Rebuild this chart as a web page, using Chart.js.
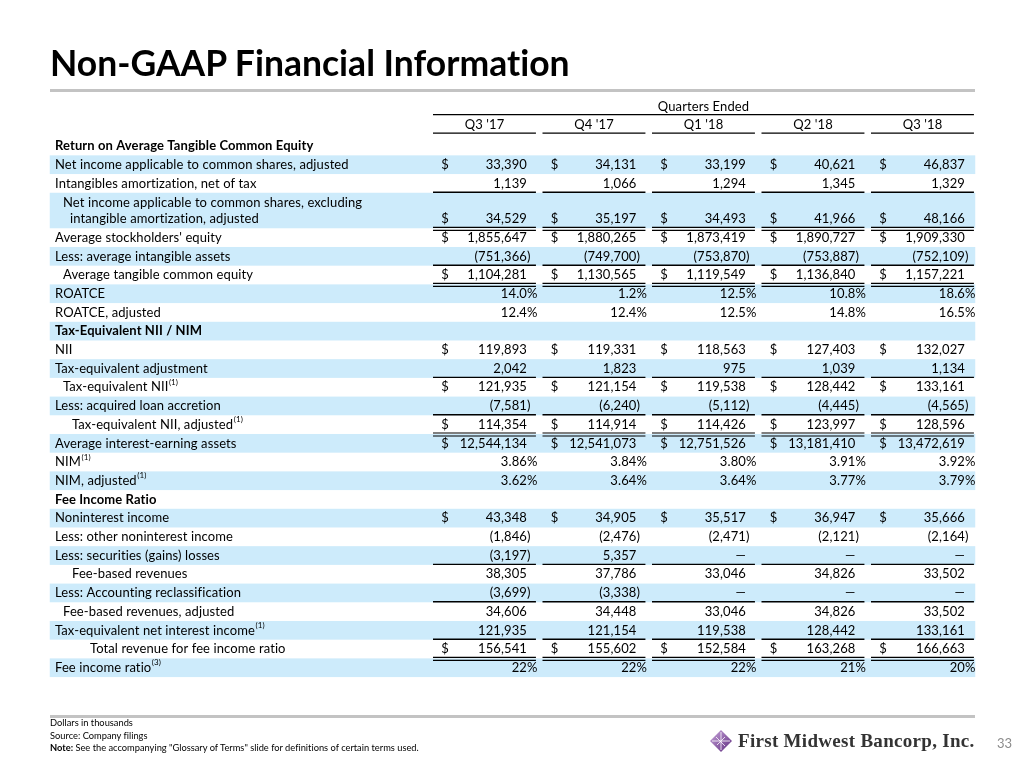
<!DOCTYPE html>
<html lang="en">
<head>
  <meta charset="utf-8">
  <title>Non-GAAP Financial Information</title>
  <script src="https://cdn.jsdelivr.net/npm/chart.js@4/dist/chart.umd.min.js"></script>
  <style>
    body { margin:0; background:#fff; font-family:Lato, sans-serif; color:#000; font-variant-ligatures:none; }
    .slide { position:relative; width:1024px; height:768px; overflow:hidden; }
    #tbl { position:absolute; left:0; top:0; }
    h1 { position:absolute; left:50px; top:44.5px; margin:0; font-size:35.5px; line-height:35.5px; font-weight:700; white-space:nowrap; }
    .rule { position:absolute; left:50px; width:925px; height:3px; background:#c3c3c3; }
    .notes { position:absolute; left:50px; top:717px; font-size:9.3px; line-height:12.5px; }
    .logo { position:absolute; left:709px; top:729px; display:flex; align-items:center; gap:5px; }
    .logo span { font-family:"Liberation Serif", serif; font-weight:700; font-size:19px; color:#333; letter-spacing:0.3px; }
    .page { position:absolute; left:997px; top:735px; font-size:13px; color:#8c8c8c; }
  </style>
</head>
<body>
<div class="slide">
  <canvas id="tbl" width="1024" height="768"></canvas>
  <h1>Non-GAAP Financial Information</h1>
  <div class="rule" style="top:89px"></div>
  <div class="rule" style="top:715px"></div>
  <div class="notes">
    Dollars in thousands<br>
    Source: Company filings<br>
    <b>Note:</b> See the accompanying "Glossary of Terms" slide for definitions of certain terms used.
  </div>
  <div class="logo">
    <svg width="24" height="24" viewBox="0 0 24 24">
      <defs><linearGradient id="g" x1="0" y1="0" x2="1" y2="1"><stop offset="0" stop-color="#c9a6dc"/><stop offset="1" stop-color="#5e2b7e"/></linearGradient></defs>
      <polygon points="12,1 23,12 12,23 1,12" fill="url(#g)"/>
      <path d="M12 3V21M3 12H21M7 8L16 17M8 16L16 8" stroke="#fff" stroke-width="0.8"/>
    </svg>
    <span>First Midwest Bancorp, Inc.</span>
  </div>
  <div class="page">33</div>
</div>

<script>
  // ---- data (dollars in thousands) ----
  const quarters = ["Q3 '17", "Q4 '17", "Q1 '18", "Q2 '18", "Q3 '18"];
  const netIncomeAdj = [33390, 34131, 33199, 40621, 46837];
  const intangAmort = [1139, 1066, 1294, 1345, 1329];
  const netIncomeExAmort = [34529, 35197, 34493, 41966, 48166];
  const avgEquity = [1855647, 1880265, 1873419, 1890727, 1909330];
  const avgIntangibles = [-751366, -749700, -753870, -753887, -752109];
  const avgTangibleEquity = [1104281, 1130565, 1119549, 1136840, 1157221];
  const roatce = [14.0, 1.2, 12.5, 10.8, 18.6];
  const roatceAdj = [12.4, 12.4, 12.5, 14.8, 16.5];
  const nii = [119893, 119331, 118563, 127403, 132027];
  const teAdjustment = [2042, 1823, 975, 1039, 1134];
  const teNii = [121935, 121154, 119538, 128442, 133161];
  const loanAccretion = [-7581, -6240, -5112, -4445, -4565];
  const teNiiAdj = [114354, 114914, 114426, 123997, 128596];
  const avgEarningAssets = [12544134, 12541073, 12751526, 13181410, 13472619];
  const nim = [3.86, 3.84, 3.80, 3.91, 3.92];
  const nimAdj = [3.62, 3.64, 3.64, 3.77, 3.79];
  const nonintIncome = [43348, 34905, 35517, 36947, 35666];
  const otherNonint = [-1846, -2476, -2471, -2121, -2164];
  const securitiesGains = [-3197, 5357, null, null, null];
  const feeRevenues = [38305, 37786, 33046, 34826, 33502];
  const acctReclass = [-3699, -3338, null, null, null];
  const feeRevenuesAdj = [34606, 34448, 33046, 34826, 33502];
  const teNetInterestIncome = [121935, 121154, 119538, 128442, 133161];
  const totalRevenue = [156541, 155602, 152584, 163268, 166663];
  const feeIncomeRatio = [22, 22, 22, 21, 20];

  // rule: 1 = single underline, 2 = double underline; pct = decimals for percents
  const rows = [
    { label: 'Return on Average Tangible Common Equity', bold: true },
    { label: 'Net income applicable to common shares, adjusted', values: netIncomeAdj, dollar: true },
    { label: 'Intangibles amortization, net of tax', values: intangAmort, rule: 1 },
    { label: 'Net income applicable to common shares, excluding', label2: 'intangible amortization, adjusted', values: netIncomeExAmort, dollar: true, rule: 2, indent: 1 },
    { label: "Average stockholders' equity", values: avgEquity, dollar: true },
    { label: 'Less: average intangible assets', values: avgIntangibles, rule: 1 },
    { label: 'Average tangible common equity', values: avgTangibleEquity, dollar: true, rule: 2, indent: 1 },
    { label: 'ROATCE', values: roatce, pct: 1 },
    { label: 'ROATCE, adjusted', values: roatceAdj, pct: 1 },
    { label: 'Tax-Equivalent NII / NIM', bold: true },
    { label: 'NII', values: nii, dollar: true },
    { label: 'Tax-equivalent adjustment', values: teAdjustment, rule: 1 },
    { label: 'Tax-equivalent NII', sup: '(1)', values: teNii, dollar: true, indent: 1 },
    { label: 'Less: acquired loan accretion', values: loanAccretion, rule: 1 },
    { label: 'Tax-equivalent NII, adjusted', sup: '(1)', values: teNiiAdj, dollar: true, rule: 2, indent: 2 },
    { label: 'Average interest-earning assets', values: avgEarningAssets, dollar: true },
    { label: 'NIM', sup: '(1)', values: nim, pct: 2 },
    { label: 'NIM, adjusted', sup: '(1)', values: nimAdj, pct: 2 },
    { label: 'Fee Income Ratio', bold: true },
    { label: 'Noninterest income', values: nonintIncome, dollar: true },
    { label: 'Less: other noninterest income', values: otherNonint },
    { label: 'Less: securities (gains) losses', values: securitiesGains, rule: 1 },
    { label: 'Fee-based revenues', values: feeRevenues, indent: 2 },
    { label: 'Less: Accounting reclassification', values: acctReclass, rule: 1 },
    { label: 'Fee-based revenues, adjusted', values: feeRevenuesAdj, indent: 1 },
    { label: 'Tax-equivalent net interest income', sup: '(1)', values: teNetInterestIncome, rule: 1 },
    { label: 'Total revenue for fee income ratio', values: totalRevenue, dollar: true, rule: 2, indent: 3 },
    { label: 'Fee income ratio', sup: '(3)', values: feeIncomeRatio, pct: 0 }
  ];

  // row positions in table units (row 3 holds two text lines)
  rows.forEach((r, i) => {
    if (i < 3) { r.pos = i; r.top = i - 0.5; r.bot = i + 0.5; }
    else if (i === 3) { r.pos = 3.9; r.pos1 = 3.03; r.top = 2.5; r.bot = 4.4; }
    else { r.pos = i + 0.9; r.top = r.pos - 0.5; r.bot = r.pos + 0.5; }
  });

  const LABEL_X = -3.452, BAND_L = -3.5, BAND_R = 4.952, COL_W = 0.94;
  const DOLLAR_DX = 0.075, DIGIT_DX = 0.858;
  const INDENT_PX = [0, 8, 17, 35];
  const BAND = '#cdebfb';
  const FS = 13;

  function fmt(v, r) {
    if (v === null) return ['—', ''];
    if (r.pct !== undefined) return [v.toFixed(r.pct), '%'];
    const s = Math.abs(v).toLocaleString('en-US');
    return v < 0 ? ['(' + s, ')'] : [s, ''];
  }

  const cells = [];
  rows.forEach((r, ri) => {
    if (!r.values) return;
    r.values.forEach((v, ci) => cells.push({ x: ci + DIGIT_DX, y: r.pos, ri, ci }));
  });

  const tablePlugin = {
    id: 'tablePlugin',
    beforeDatasetsDraw(chart) {
      const { ctx, scales: { x, y } } = chart;
      ctx.save();
      ctx.fillStyle = BAND;
      rows.forEach((r, i) => {
        if (i % 2 === 0) return;
        const t = y.getPixelForValue(r.top), b = y.getPixelForValue(r.bot);
        const l = x.getPixelForValue(BAND_L), rr = x.getPixelForValue(BAND_R);
        ctx.fillRect(l, t, rr - l, b - t);
      });
      ctx.restore();
    },
    afterDatasetsDraw(chart) {
      const { ctx, scales: { x, y } } = chart;
      const meta = chart.getDatasetMeta(0);
      ctx.save();
      ctx.fillStyle = '#000';
      ctx.strokeStyle = '#000';
      ctx.textBaseline = 'middle';
      ctx.letterSpacing = '0.1px'; // also keeps Lato from forming ti/fi ligatures
      const hline = (x0, x1, yy, w) => {
        ctx.lineWidth = w; ctx.beginPath(); ctx.moveTo(x0, yy); ctx.lineTo(x1, yy); ctx.stroke();
      };

      // header
      ctx.font = `${FS}px Lato`;
      ctx.textAlign = 'center';
      ctx.fillText('Quarters Ended', (x.getPixelForValue(0) + x.getPixelForValue(4 + COL_W)) / 2, y.getPixelForValue(-2.09));
      hline(x.getPixelForValue(0), x.getPixelForValue(4 + COL_W), y.getPixelForValue(-1.68), 1.4);
      quarters.forEach((q, ci) => {
        ctx.fillText(q, x.getPixelForValue(ci + COL_W / 2), y.getPixelForValue(-1.12));
        hline(x.getPixelForValue(ci), x.getPixelForValue(ci + COL_W), y.getPixelForValue(-0.69), 1.4);
      });

      // row labels
      ctx.textAlign = 'left';
      rows.forEach(r => {
        const lx = x.getPixelForValue(LABEL_X) + INDENT_PX[r.indent || 0];
        ctx.font = `${r.bold ? 'bold ' : ''}${FS}px Lato`;
        if (r.label2) {
          ctx.fillText(r.label, lx, y.getPixelForValue(r.pos1));
          ctx.fillText(r.label2, x.getPixelForValue(LABEL_X) + 15, y.getPixelForValue(r.pos));
        } else {
          ctx.fillText(r.label, lx, y.getPixelForValue(r.pos));
        }
        if (r.sup) {
          const w = ctx.measureText(r.label).width;
          ctx.font = '8px Lato';
          ctx.fillText(r.sup, lx + w + 0.5, y.getPixelForValue(r.pos) - 5);
        }
      });

      // values, drawn at the dataset's points
      ctx.font = `${FS}px Lato`;
      meta.data.forEach((pt, k) => {
        const c = cells[k], r = rows[c.ri];
        const [core, tail] = fmt(r.values[c.ci], r);
        ctx.textAlign = 'right';
        ctx.fillText(core, pt.x, pt.y);
        if (tail) { ctx.textAlign = 'left'; ctx.fillText(tail, pt.x, pt.y); }
        if (r.dollar) { ctx.textAlign = 'left'; ctx.fillText('$', x.getPixelForValue(c.ci + DOLLAR_DX), pt.y); }
        const x0 = x.getPixelForValue(c.ci), x1 = x.getPixelForValue(c.ci + COL_W);
        const yb = y.getPixelForValue(r.bot);
        if (r.rule === 1) hline(x0, x1, yb - 0.5, 1.4);
        if (r.rule === 2) { hline(x0, x1, yb - 1, 1.2); hline(x0, x1, yb + 2, 1.2); }
      });
      ctx.restore();
    }
  };

  // table units: one column pitch = 109.5px, one row = 18.7px; column 0 starts at 433px, row 0 sits at 146px
  new Chart(document.getElementById('tbl'), {
    type: 'scatter',
    data: { datasets: [{ data: cells.map(c => ({ x: c.x, y: c.y })), pointRadius: 0, pointHoverRadius: 0 }] },
    options: {
      responsive: false,
      animation: false,
      devicePixelRatio: 1,
      layout: { padding: 0 },
      plugins: { legend: { display: false }, tooltip: { enabled: false } },
      events: [],
      scales: {
        x: { type: 'linear', display: false, min: -433 / 109.5, max: (1024 - 433) / 109.5 },
        y: { type: 'linear', display: false, reverse: true, min: -146 / 18.7, max: (768 - 146) / 18.7 }
      }
    },
    plugins: [tablePlugin]
  });
</script>
</body>
</html>
